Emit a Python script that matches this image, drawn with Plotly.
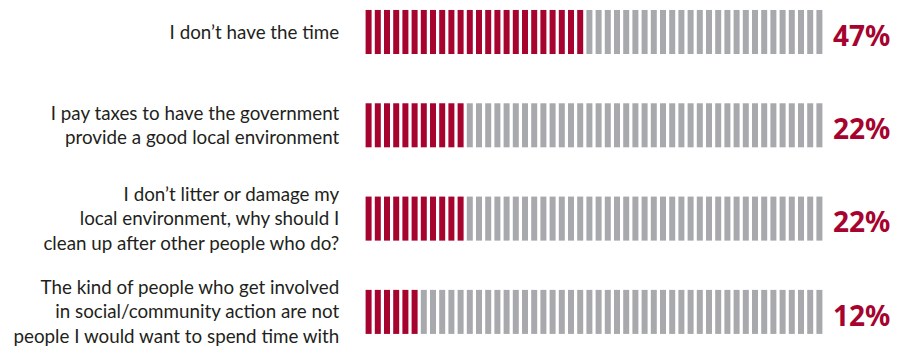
import plotly.graph_objects as go

categories = [
    "I don\u2019t have the time",
    "I pay taxes to have the government<br>provide a good local environment",
    "I don\u2019t litter or damage my<br>local environment, why should I<br>clean up after other people who do?",
    "The kind of people who get involved<br>in social/community action are not<br>people I would want to spend time with",
]
values = [47, 22, 22, 12]
n_stripes = 50
pct_per_stripe = 100 / n_stripes

RED = "#A6032F"
GREY = "#A7A9AC"
TEXT = "#231F20"

bar_h = 0.472
fig = go.Figure()
for r, v in enumerate(values):
    n_red = int(v / pct_per_stripe + 0.5)
    xs = list(range(n_stripes))
    colors = [RED if i < n_red else GREY for i in xs]
    fig.add_trace(go.Bar(
        x=xs, y=[bar_h] * n_stripes, base=[r - bar_h / 2] * n_stripes,
        marker=dict(color=colors, line=dict(width=0)),
        width=0.652, showlegend=False, hoverinfo="skip",
    ))

for r, v in enumerate(values):
    fig.add_annotation(
        x=1.148, xref="paper", y=r + 0.03, yref="y",
        text=f"<b>{v}%</b>", showarrow=False, xanchor="right", yanchor="middle",
        font=dict(family="Noto Sans, Open Sans, sans-serif", size=28, color=RED),
    )

fig.update_layout(
    width=892, height=343,
    margin=dict(l=356, r=76, t=0, b=0, autoexpand=False),
    paper_bgcolor="white", plot_bgcolor="white",
    barmode="overlay",
    xaxis=dict(range=[-0.5, n_stripes - 0.5], visible=False, fixedrange=True),
    yaxis=dict(
        range=[3.419, -0.257], tickmode="array",
        tickvals=list(range(len(categories))), ticktext=categories,
        showgrid=False, zeroline=False, showline=False, automargin=False,
        ticks="outside", ticklen=20, tickcolor="rgba(0,0,0,0)",
        tickfont=dict(family="Lato, Open Sans, sans-serif", size=18.8, color=TEXT),
    ),
)

fig.write_html("out.html")
